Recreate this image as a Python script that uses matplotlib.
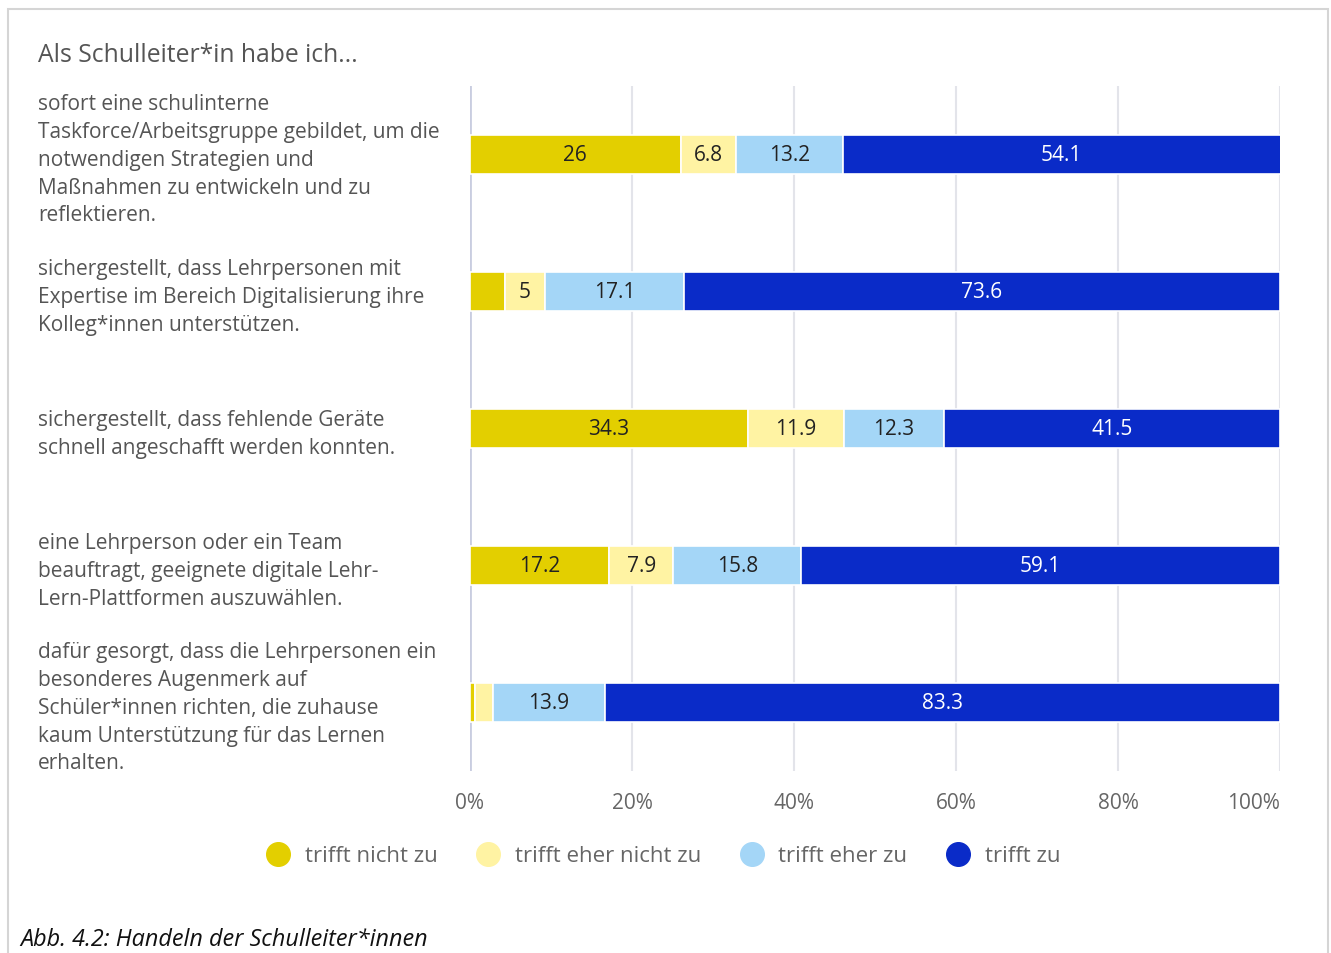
import matplotlib
matplotlib.use('Agg')
import matplotlib.pyplot as plt
import matplotlib.transforms as mtransforms
from matplotlib.patches import Rectangle
from matplotlib.lines import Line2D
import numpy as np

plt.rcParams['font.family'] = ['Open Sans', 'DejaVu Sans']

title = "Als Schulleiter*in habe ich..."
caption = "Abb. 4.2: Handeln der Schulleiter*innen"

categories = [
    "sofort eine schulinterne\nTaskforce/Arbeitsgruppe gebildet, um die\nnotwendigen Strategien und\nMaßnahmen zu entwickeln und zu\nreflektieren.",
    "sichergestellt, dass Lehrpersonen mit\nExpertise im Bereich Digitalisierung ihre\nKolleg*innen unterstützen.",
    "sichergestellt, dass fehlende Geräte\nschnell angeschafft werden konnten.",
    "eine Lehrperson oder ein Team\nbeauftragt, geeignete digitale Lehr-\nLern-Plattformen auszuwählen.",
    "dafür gesorgt, dass die Lehrpersonen ein\nbesonderes Augenmerk auf\nSchüler*innen richten, die zuhause\nkaum Unterstützung für das Lernen\nerhalten.",
]

series_names = ["trifft nicht zu", "trifft eher nicht zu", "trifft eher zu", "trifft zu"]
nicht_zu = [26, 4.3, 34.3, 17.2, 0.6]
eher_nicht_zu = [6.8, 5, 11.9, 7.9, 2.2]
eher_zu = [13.2, 17.1, 12.3, 15.8, 13.9]
zu = [54.1, 73.6, 41.5, 59.1, 83.3]
tick_vals = [0, 20, 40, 60, 80, 100]
tick_labels = ["0%", "20%", "40%", "60%", "80%", "100%"]

colors = ["#E3CF00", "#FFF3A3", "#A4D6F7", "#0A2BC8"]
text_colors = ["#222222", "#222222", "#222222", "white"]

fig = plt.figure(figsize=(13.31, 9.54), dpi=100)
ax = fig.add_axes([470 / 1331, 1 - 772 / 954, 810 / 1331, 685 / 954])

y = np.arange(len(categories))
left = np.zeros(len(categories))
for vals, name, col, tc in zip([nicht_zu, eher_nicht_zu, eher_zu, zu], series_names, colors, text_colors):
    vals = np.array(vals, dtype=float)
    ax.barh(y, vals, left=left, height=0.28, color=col, edgecolor='white', linewidth=1.2, zorder=3)
    for yi, l, v in zip(y, left, vals):
        if v >= 5:
            ax.text(l + v / 2, yi, f"{v:g}", ha='center', va='center', fontsize=15, color=tc, zorder=4)
    left += vals

ax.set_xlim(0, 100)
ax.set_ylim(len(categories) - 0.5, -0.5)
ax.set_xticks(tick_vals)
ax.set_xticklabels(tick_labels)
ax.tick_params(axis='x', length=0, labelsize=15, labelcolor='#666666', pad=15)
ax.get_xticklabels()[-1].set_ha('right')
ax.set_yticks([])
for s in ax.spines.values():
    s.set_visible(False)
for xv in tick_vals[1:]:
    ax.axvline(xv, color='#e3e4ea', linewidth=1.5, zorder=1)
ax.axvline(0, color='#c9cde0', linewidth=2, zorder=1)

trans = mtransforms.blended_transform_factory(fig.transFigure, ax.transData)
for yi, lab in zip(y, categories):
    ax.text(38 / 1331, yi + 0.035, lab, transform=trans, ha='left', va='center',
            fontsize=15, color='#555555', linespacing=1.42)

fig.text(38 / 1331, 1 - 55 / 954, title, fontsize=17.8, color='#555555', va='center', ha='left')
fig.text(20 / 1331, 1 - 940 / 954, caption, fontsize=16.8, style='italic', color='#111111', va='center', ha='left')

# legend
handles = [Line2D([], [], marker='o', linestyle='', markersize=17, markerfacecolor=c, markeredgecolor=c)
           for c in colors]
fig.legend(handles, series_names, loc='center', bbox_to_anchor=(658 / 1331, 1 - 857 / 954), ncol=4,
           frameon=False, fontsize=16, labelcolor='#666666', handletextpad=0.2, columnspacing=1.28)

fig.patches.append(Rectangle((8 / 1331, -0.01), 1320 / 1331, 1 - 10 / 954 + 0.01, transform=fig.transFigure,
                             fill=False, edgecolor='#d5d5d5', linewidth=1.5))

fig.savefig("out.png", dpi=100)
